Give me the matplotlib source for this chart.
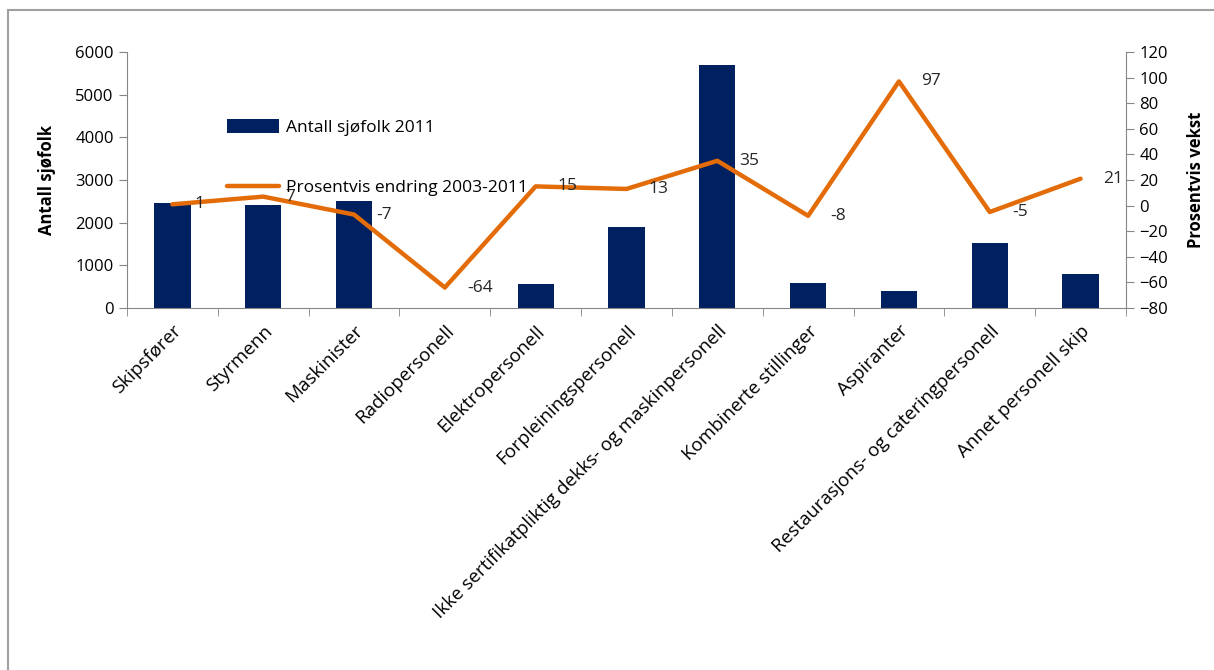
import numpy as np
import matplotlib.pyplot as plt
from matplotlib.patches import Rectangle

plt.rcParams['font.family'] = ['Open Sans', 'DejaVu Sans']

# Yrkesgrupper og verdier
kategorier = ['Skipsfører', 'Styrmenn', 'Maskinister', 'Radiopersonell',
              'Elektropersonell', 'Forpleiningspersonell',
              'Ikke sertifikatpliktig dekks- og maskinpersonell',
              'Kombinerte stillinger', 'Aspiranter',
              'Restaurasjons- og cateringpersonell', 'Annet personell skip']
antall_2011 = [2470, 2420, 2500, 0, 560, 1900, 5700, 580, 390, 1520, 790]
endring_pst = [1, 7, -7, -64, 15, 13, 35, -8, 97, -5, 21]

bla = '#002060'
oransje = '#E36C09'
gra = '#868686'

fig = plt.figure(figsize=(12.14, 6.7), dpi=100)
ax = fig.add_axes([0.1046, 0.5403, 0.8229, 0.3821])
ax2 = ax.twinx()

x = np.arange(len(kategorier))
stolper = ax.bar(x, antall_2011, width=0.4, color=bla, label='Antall sjøfolk 2011', zorder=2)
linje, = ax2.plot(x, endring_pst, color=oransje, linewidth=3.2, solid_capstyle='round',
                  label='Prosentvis endring 2003-2011', zorder=3)

for xi, v in zip(x, endring_pst):
    ax2.annotate(str(v), (xi, v), xytext=(16, 0), textcoords='offset points',
                 ha='left', va='center', fontsize=12.5, color='#262626')

ax.set_xlim(-0.5, len(kategorier) - 0.5)
ax.set_ylim(0, 6000)
ax.set_yticks(np.arange(0, 6001, 1000))
ax2.set_ylim(-80, 120)
ax2.set_yticks(np.arange(-80, 121, 20))

ax.set_xticks(x)
ax.set_xticklabels(kategorier, rotation=45, ha='right', rotation_mode='anchor', fontsize=13.5)
ax.set_xticks(np.arange(-0.5, len(kategorier)), minor=True)
ax.tick_params(axis='x', which='major', length=0, pad=10)
ax.tick_params(axis='x', which='minor', length=6, color=gra, direction='out')

for a in (ax, ax2):
    for s in a.spines.values():
        s.set_visible(False)
    a.tick_params(axis='y', labelsize=12, length=6, color=gra, direction='out')

ax.spines['left'].set_visible(True)
ax.spines['left'].set_color(gra)
ax.spines['bottom'].set_visible(True)
ax.spines['bottom'].set_color(gra)
ax2.spines['right'].set_visible(True)
ax2.spines['right'].set_color(gra)

ax.set_ylabel('Antall sjøfolk', fontsize=12, fontweight='bold', labelpad=14)
ax2.set_ylabel('Prosentvis vekst', fontsize=12, fontweight='bold', labelpad=14)

ax.set_zorder(ax2.get_zorder() - 1)
ax2.patch.set_visible(False)

fig.legend([stolper, linje], ['Antall sjøfolk 2011', 'Prosentvis endring 2003-2011'],
           loc='upper left', bbox_to_anchor=(0.174, 0.845), frameon=False,
           fontsize=12.5, labelspacing=2.5, handlelength=3.0, handletextpad=0.4,
           handleheight=0.8)

# ramme rundt figuren
fig.patches.append(Rectangle((0.007, -0.1), 1.1, 1.085, transform=fig.transFigure,
                             fill=False, edgecolor='#A0A0A0', linewidth=1.5))

fig.savefig('out.png', dpi=100)
